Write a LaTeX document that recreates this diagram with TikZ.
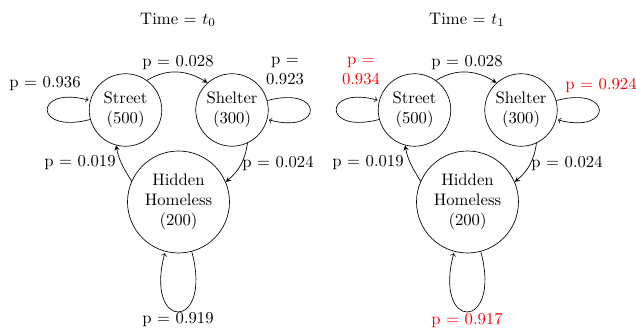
\documentclass[tikz,border=0pt]{standalone}
\usetikzlibrary{arrows}
\begin{document}
\begin{tikzpicture}[x=0.6pt,y=0.6pt,
  state/.style={circle,draw,inner sep=0pt,align=center,minimum size=43.5pt},
  bigstate/.style={circle,draw,inner sep=0pt,align=center,minimum size=61.2pt},
  trans/.style={-stealth},
  selfloop/.style={->,shorten >=1pt},
  lbl/.style={inner sep=0pt,align=center},
  redlbl/.style={lbl,text=red}]
\useasboundingbox (0,0) rectangle (636,330);
% ---------- left diagram ----------
\node[lbl] (t0) at (178,310) {Time = $t_0$};
\node[state] (st1) at (125.5,220) {Street\\(500)};
\node[state] (sh1) at (232,220) {Shelter\\(300)};
\node[bigstate] (hh1) at (178.5,128) {Hidden\\Homeless\\(200)};
\draw[trans] (st1.54) to[out=32,in=148] (sh1.132);
\draw[trans] (sh1.295) to[out=-98,in=40] (hh1.23);
\draw[trans] (hh1.156) to[out=122,in=-79] (st1.255);
\draw[selfloop] (st1.195) .. controls +(195:59) and +(165:59) .. (st1.165);
\draw[selfloop] (sh1.15) .. controls +(15:59) and +(-15:59) .. (sh1.-15);
\draw[selfloop] (hh1.285) .. controls +(285:83) and +(255:83) .. (hh1.255);
\node[lbl] (a1) at (45,246) {p = 0.936};
\node[lbl] (b1) at (178,267) {p = 0.028};
\node[lbl] (c1) at (285,259) {p =\\0.923};
\node[lbl] (d1) at (80,167) {p = 0.019};
\node[lbl] (e1) at (278,167) {p = 0.024};
\node[lbl] (f1) at (178,10) {p = 0.919};
% ---------- right diagram ----------
\begin{scope}[shift={(289,0)}]
\node[lbl] (t1) at (178,310) {Time = $t_1$};
\node[state] (st2) at (125.5,220) {Street\\(500)};
\node[state] (sh2) at (232,220) {Shelter\\(300)};
\node[bigstate] (hh2) at (178.5,128) {Hidden\\Homeless\\(200)};
\draw[trans] (st2.54) to[out=32,in=148] (sh2.132);
\draw[trans] (sh2.295) to[out=-98,in=40] (hh2.23);
\draw[trans] (hh2.156) to[out=122,in=-79] (st2.255);
\draw[selfloop] (st2.195) .. controls +(195:59) and +(165:59) .. (st2.165);
\draw[selfloop] (sh2.15) .. controls +(15:59) and +(-15:59) .. (sh2.-15);
\draw[selfloop] (hh2.285) .. controls +(285:83) and +(255:83) .. (hh2.255);
\node[redlbl] (a2) at (72,259) {p =\\0.934};
\node[lbl] (b2) at (178,267) {p = 0.028};
\node[redlbl] (c2) at (312,245) {p = 0.924};
\node[lbl] (d2) at (79,167) {p = 0.019};
\node[lbl] (e2) at (278,167) {p = 0.024};
\node[redlbl] (f2) at (178,10) {p = 0.917};
\end{scope}
\end{tikzpicture}
\end{document}
